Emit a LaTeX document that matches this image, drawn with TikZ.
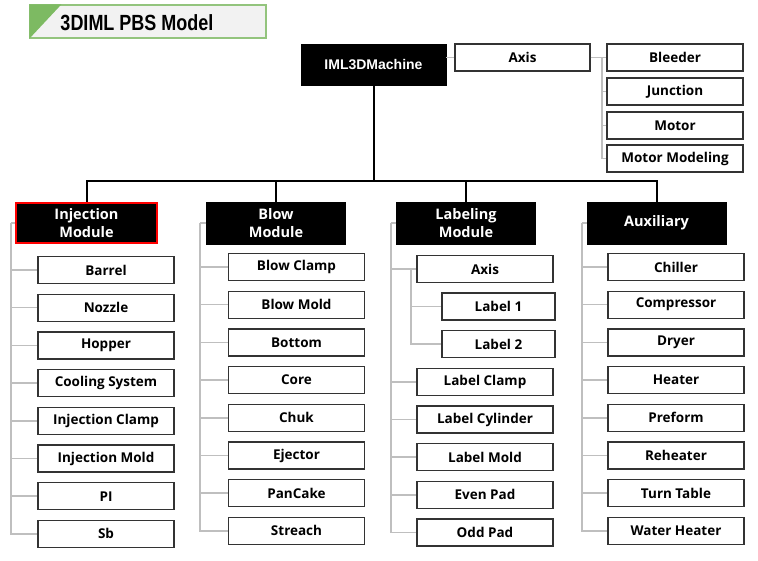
\documentclass[tikz,border=0pt]{standalone}
\usepackage{fontspec}
\setmainfont{Open Sans}
\newfontfamily\arialfont{Liberation Sans}
\usetikzlibrary{positioning}
\definecolor{busgray}{HTML}{BFBFBF}
\definecolor{titlegreen}{HTML}{7DBA62}
\definecolor{titleframe}{HTML}{93C47D}
\definecolor{titlefill}{HTML}{F2F2F2}

\begin{document}
\begin{tikzpicture}[x=1pt,y=-1pt,
    leaf/.style={draw=black!80,line width=1.3pt,fill=white,minimum width=136pt,minimum height=27pt,inner sep=0pt,font=\bfseries\fontsize{13.5}{15}\selectfont},
    module/.style={draw=black,fill=black,text=white,minimum width=139pt,minimum height=42pt,inner sep=0pt,align=center,font=\bfseries\fontsize{14.5}{18}\selectfont},
    tree/.style={line width=2pt},
    bus/.style={draw=busgray,line width=1.5pt}]
    \useasboundingbox (0,0) rectangle (758,560);

    % title
    \node[draw=titleframe,line width=1.2pt,fill=titlefill,minimum width=236pt,minimum height=33pt,inner sep=0pt] (title) at (148,21.5) {};
    \fill[titlegreen] (title.north west) -- ++(32,0) -- (title.south west) -- cycle;
    \node[font=\arialfont\bfseries\fontsize{18}{20}\selectfont,yscale=1.22] (titletext) at (137,22.5) {3DIML PBS Model};

    % machine and axis
    \node[draw=black,fill=black,text=white,minimum width=145pt,minimum height=41pt,inner sep=0pt,font=\arialfont\bfseries\fontsize{14}{15}\selectfont] (iml) at (373.5,64.5) {IML3DMachine};
    \node[leaf,minimum width=135pt] (axis) at (522.5,57.5) {Axis};
    \draw[bus] (iml.east |- axis) -- (axis.west);
    \coordinate (axisbus) at (602,57.5);
    \draw[bus] (axis.east) -- (axisbus);
    \foreach \name/\y [count=\i] in {Bleeder/57.5,Junction/91.5,Motor/125.5,Motor Modeling/158.5} {
        \node[leaf] (ax\i) at (675,\y) {\name};
        \draw[bus] (axisbus) |- (ax\i.west);
    }

    % modules
    \node[module,draw=red,line width=2pt,minimum width=141pt,minimum height=40pt] (injm) at (86.5,223) {Injection\\Module};
    \node[module] (blowm) at (276,223) {Blow\\Module};
    \node[module] (labm) at (466,223) {Labeling\\Module};
    \node[module] (auxm) at (656.5,223) {Auxiliary};

    \coordinate (hub) at (373.5,181);
    \draw[tree] (iml.south) -- (hub) -| (injm.north);
    \draw[tree] (hub) -| (blowm.north);
    \draw[tree] (hub) -| (labm.north);
    \draw[tree] (hub) -| (auxm.north);

    % injection module
    \coordinate (injbus) at (11,223);
    \draw[bus] (injm.west) -- (injbus);
    \foreach \name [count=\i] in {Barrel,Nozzle,Hopper,Cooling System,Injection Clamp,Injection Mold,PI,Sb} {
        \node[leaf] (inj\i) at (106,{270+(\i-1)*37.7}) {\name};
        \draw[bus] (injbus) |- (inj\i.west);
    }

    % blow module
    \coordinate (blowbus) at (200,223);
    \draw[bus] (blowm.west) -- (blowbus);
    \foreach \name [count=\i] in {Blow Clamp,Blow Mold,Bottom,Core,Chuk,Ejector,PanCake,Streach} {
        \node[leaf] (blow\i) at (296.5,{267+(\i-1)*37.7}) {\name};
        \draw[bus] (blowbus) |- (blow\i.west);
    }

    % labeling module
    \coordinate (labbus) at (391,223);
    \draw[bus] (labm.west) -- (labbus);
    \node[leaf] (lab1) at (485,269) {Axis};
    \node[leaf,minimum width=113pt] (lab1a) at (498.5,306.5) {Label 1};
    \node[leaf,minimum width=113pt] (lab1b) at (498.5,344) {Label 2};
    \coordinate (labaxisbus) at (411,269);
    \draw[bus] (labaxisbus) |- (lab1a.west);
    \draw[bus] (labaxisbus) |- (lab1b.west);
    \draw[bus] (labbus) |- (lab1.west);
    \foreach \name [count=\i from 2] in {Label Clamp,Label Cylinder,Label Mold,Even Pad,Odd Pad} {
        \node[leaf] (lab\i) at (485,{382+(\i-2)*37.6}) {\name};
        \draw[bus] (labbus) |- (lab\i.west);
    }

    % auxiliary
    \coordinate (auxbus) at (582,223);
    \draw[bus] (auxm.west) -- (auxbus);
    \foreach \name [count=\i] in {Chiller,Compressor,Dryer,Heater,Preform,Reheater,Turn Table,Water Heater} {
        \node[leaf] (aux\i) at (676,{267+(\i-1)*37.7}) {\name};
        \draw[bus] (auxbus) |- (aux\i.west);
    }
\end{tikzpicture}
\end{document}
